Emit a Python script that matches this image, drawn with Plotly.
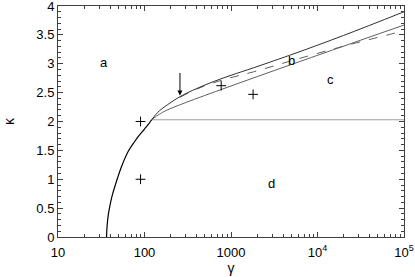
import numpy as np
import plotly.graph_objects as go

# phase boundaries
gamma_lower = [36.4, 36.7, 37.3, 38.3, 39.7, 42.0, 45.4, 54.3, 64.7, 75.0, 84.5, 100, 112, 121]
kappa_lower = [0.0, 0.12, 0.26, 0.40, 0.53, 0.70, 0.875, 1.22, 1.48, 1.63, 1.74, 1.87, 1.96, 2.03]

gamma_upper = [121, 135, 150, 197, 257, 400, 625, 1000, 1820, 5500, 20000, 100000]
kappa_upper = [2.03, 2.12, 2.19, 2.32, 2.43, 2.57, 2.69, 2.80, 2.93, 3.18, 3.49, 3.90]

gamma_mid = [121, 150, 197, 100000]
kappa_mid = [2.03, 2.13, 2.22, 3.67]

gamma_dash = [257, 400, 625, 1000, 1820, 5500, 22000, 100000]
kappa_dash = [2.42, 2.56, 2.67, 2.76, 2.86, 3.07, 3.32, 3.57]

gamma_flat = [121, 100000]
kappa_flat = [2.03, 2.03]

plus_gamma = [90, 90, 770, 1800]
plus_kappa = [2.0, 1.0, 2.62, 2.47]

region_labels = ['a', 'b', 'c', 'd']
region_gamma = [34, 5000, 14300, 2900]
region_kappa = [3.03, 3.05, 2.72, 0.92]

arrow_gamma = 257
arrow_kappa = 2.45

x_ticks = [10, 100, 1000, 10000, 100000]
x_ticktext = ['10', '100', '1000', '10<sup>4</sup>', '10<sup>5</sup>']
y_ticks = [0, 0.5, 1, 1.5, 2, 2.5, 3, 3.5, 4]

fig = go.Figure()
fig.add_trace(go.Scatter(x=gamma_flat, y=kappa_flat, mode='lines',
                         line=dict(color='#a0a0a0', width=1)))
fig.add_trace(go.Scatter(x=gamma_mid, y=kappa_mid, mode='lines', line_shape='spline',
                         line=dict(color='#606060', width=1)))
fig.add_trace(go.Scatter(x=gamma_dash, y=kappa_dash, mode='lines', line_shape='spline',
                         line=dict(color='#606060', width=1, dash='dash')))
fig.add_trace(go.Scatter(x=gamma_upper, y=kappa_upper, mode='lines', line_shape='spline',
                         line=dict(color='#303030', width=1)))
fig.add_trace(go.Scatter(x=gamma_lower, y=kappa_lower, mode='lines', line_shape='spline',
                         line=dict(color='black', width=1.2)))
fig.add_trace(go.Scatter(x=plus_gamma, y=plus_kappa, mode='markers',
                         marker=dict(symbol='cross-thin', size=7, line=dict(color='black', width=1))))

for t, gx, ky in zip(region_labels, region_gamma, region_kappa):
    fig.add_annotation(x=np.log10(gx), y=ky, text=t, showarrow=False,
                       font=dict(size=13, color='black'))

fig.add_annotation(x=np.log10(arrow_gamma), y=arrow_kappa, text='', showarrow=True,
                   ax=0, ay=-24, arrowhead=2, arrowsize=1, arrowwidth=1, arrowcolor='black')

axis_common = dict(showline=True, linecolor='#404040', linewidth=1, mirror='allticks',
                   ticks='inside', ticklen=5, tickcolor='#404040', showgrid=False,
                   zeroline=False, ticklabeloverflow='allow', automargin=False,
                   tickfont=dict(size=13, color='black'))

minor_x = [m * d for d in [10, 100, 1000, 10000] for m in range(2, 10)]

fig.update_xaxes(type='log', range=[1, 5],
                 tickvals=x_ticks, ticktext=x_ticktext, ticklabelstandoff=3,
                 title=dict(text='γ', font=dict(size=14, color='black'), standoff=2),
                 minor=dict(ticks='inside', ticklen=3, tickvals=minor_x,
                            tickcolor='#404040', showgrid=False),
                 **axis_common)
fig.update_yaxes(range=[0, 4], tickvals=y_ticks,
                 title=dict(text='κ', font=dict(size=14, color='black'), standoff=18),
                 minor=dict(ticks='inside', ticklen=3, dtick=0.1, tickcolor='#404040', showgrid=False),
                 **axis_common)

fig.update_layout(width=415, height=277, showlegend=False,
                  margin=dict(l=58, r=11, t=6, b=40),
                  plot_bgcolor='white', paper_bgcolor='white',
                  font=dict(family='Liberation Sans, Arial, sans-serif', color='black'))

fig.write_html("out.html", config={'displayModeBar': False},
               post_script="document.body.style.margin='0';")
